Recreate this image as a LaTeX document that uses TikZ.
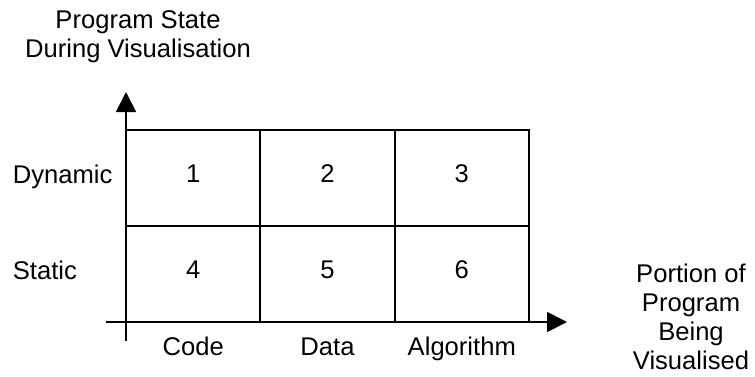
\documentclass[tikz,border=0pt]{standalone}
\usepackage{fontspec}
\setmainfont{Liberation Sans}
\usetikzlibrary{arrows.meta}
\begin{document}
\begin{tikzpicture}[x=1pt,y=-1pt,line width=1.8pt,
  every node/.style={font=\fontsize{25.6pt}{29pt}\selectfont,inner sep=0pt},
  cell/.style={draw,minimum width=134.33pt,minimum height=96pt,text depth=8pt},
  axis/.style={-{Triangle[length=20pt,width=20pt]}}]
  \useasboundingbox (0,0) rectangle (755,376);
  % cells: top row dynamic, bottom row static
  \foreach \n/\x/\y in {1/193.2/178,2/327.5/178,3/461.8/178,4/193.2/274,5/327.5/274,6/461.8/274}
    \node[cell] (c\n) at (\x,\y) {\n};
  \coordinate (ybot) at (126,341);
  \coordinate (ytop) at (126,92);
  \coordinate (xleft) at (106,322);
  \coordinate (xright) at (567,322);
  \draw[axis] (ybot) -- (ytop);
  \draw[axis] (xleft) -- (xright);
  \node[anchor=base west] (dyn) at (12,183) {Dynamic};
  \node[anchor=base west] (sta) at (12,279) {Static};
  \foreach \n/\t in {4/Code,5/Data,6/Algorithm}
    \path (c\n.south) ++(0,32.5) node[anchor=base] (\t) {\t};
  \node[align=center,anchor=north] (ylab) at (138,9.7) {Program State\\During Visualisation};
  \node[align=center,anchor=north] (xlab) at (691,263.3) {Portion of\\Program\\Being\\Visualised};
\end{tikzpicture}
\end{document}
